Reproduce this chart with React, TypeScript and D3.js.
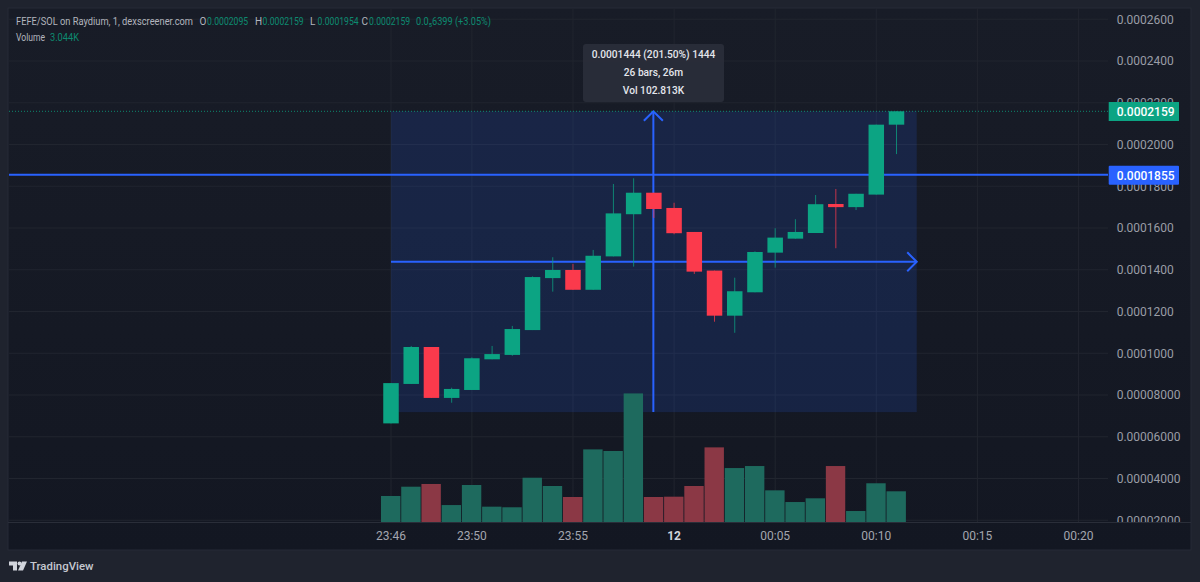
import React from "react";
import * as d3 from "d3";

const opens = [664, 853, 1030, 786, 824, 971, 992, 1111, 1360, 1399, 1304, 1464, 1666, 1769, 1696, 1581, 1396, 1180, 1292, 1482, 1549, 1576, 1715, 1700, 1760, 2095];
const closes = [857, 1030, 786, 829, 976, 996, 1116, 1365, 1399, 1304, 1467, 1670, 1769, 1691, 1575, 1391, 1180, 1297, 1485, 1554, 1581, 1714, 1700, 1764, 2095, 2159];
const highs = [857, 1035, 1030, 835, 980, 1035, 1131, 1368, 1460, 1428, 1495, 1811, 1838, 1769, 1721, 1581, 1396, 1362, 1488, 1599, 1642, 1758, 1787, 1764, 2095, 2159];
const lows = [664, 853, 786, 763, 824, 971, 988, 1111, 1295, 1304, 1304, 1464, 1415, 1648, 1570, 1380, 1151, 1098, 1292, 1410, 1549, 1576, 1503, 1686, 1760, 1954];
const volumes = [2.58, 3.5, 3.77, 1.68, 3.67, 1.52, 1.46, 4.39, 3.57, 2.48, 7.2, 7.04, 12.75, 2.48, 2.51, 3.57, 7.4, 5.35, 5.55, 3.14, 1.98, 2.35, 5.55, 1.09, 3.84, 3.044];

const priceTicks = [2600, 2400, 2200, 2000, 1800, 1600, 1400, 1200, 1000, 800, 600, 400, 200];
const priceTickLabels = ["0.0002600", "0.0002400", "0.0002200", "0.0002000", "0.0001800", "0.0001600", "0.0001400", "0.0001200", "0.0001000", "0.00008000", "0.00006000", "0.00004000", "0.00002000"];
const timeTickBars = [0, 4, 9, 14, 19, 24, 29, 34];
const timeTickLabels = ["23:46", "23:50", "23:55", "12", "00:05", "00:10", "00:15", "00:20"];

const lastPrice = 2159;
const hLinePrice = 1855;
const measureLow = 718;
const measureMid = 1438;
const measureBars = [0, 26];
const measureMidBar = 13;

const headerKeys = ["O", "H", "L", "C"];
const headerValues = ["0.0002095", "0.0002159", "0.0001954", "0.0002159"];
const headerKeyX = [199.5, 255, 310, 361.5];
const tooltipLines = ["0.0001444 (201.50%) 1444", "26 bars, 26m", "Vol 102.813K"];

const UP = "#0ca483";
const DOWN = "#fb3a4c";
const BLUE = "#2962ff";
const TXT = "#b2b5be";
const VAL = "#0d8a70";
const FONT = "Roboto, sans-serif";

export default function App() {
  const x = d3.scaleLinear().domain([0, 34]).range([391, 391 + 34 * 20.22]);
  const y = d3.scaleLinear().domain([2000, 1800]).range([144.5, 186.25]);
  const vy = d3.scaleLinear().domain([0, 3.044]).range([522, 491.3]);
  const bodyW = 15.5;
  const volW = 19;
  const rl = x(measureBars[0]), rr = x(measureBars[1]);
  const rt = y(lastPrice), rb = y(measureLow);
  const mx = x(measureMidBar) - 0.5, my = y(measureMid);
  const head = 9.5;
  return (
    <svg width={1200} height={582} style={{ position: "fixed", left: 0, top: 0, display: "block" }} fontFamily={FONT}>
      <defs>
        <linearGradient id="bg" x1="0" y1="0" x2="0" y2="1">
          <stop offset="0" stopColor="#181c27" />
          <stop offset="1" stopColor="#131722" />
        </linearGradient>
        <clipPath id="plot"><rect x={8} y={8} width={1183} height={514} /></clipPath>
      </defs>
      <rect width={1200} height={582} fill="#1f232e" />
      <rect x={8} y={8} width={1183} height={542} fill="url(#bg)" stroke="#272b36" />
      <line x1={8} x2={1191} y1={522.5} y2={522.5} stroke="#2a2e39" />
      <g stroke="#21252f" strokeWidth={1}>
        {priceTicks.map((t) => <line key={t} x1={9} x2={1108} y1={y(t)} y2={y(t)} />)}
        {timeTickBars.map((b) => <line key={b} x1={x(b)} x2={x(b)} y1={8} y2={522} />)}
      </g>
      <rect x={rl} y={rt} width={rr - rl} height={rb - rt} fill={BLUE} opacity={0.15} />
      <line x1={9} x2={1108} y1={y(hLinePrice)} y2={y(hLinePrice)} stroke={BLUE} strokeWidth={2} />
      <line x1={rl} x2={rr} y1={my} y2={my} stroke={BLUE} strokeWidth={2} />
      <line x1={mx} x2={mx} y1={rt} y2={rb} stroke={BLUE} strokeWidth={2} />
      <path d={`M${rr - head},${my - head} L${rr},${my} L${rr - head},${my + head}`} fill="none" stroke={BLUE} strokeWidth={2} />
      <path d={`M${mx - head},${rt + head} L${mx},${rt} L${mx + head},${rt + head}`} fill="none" stroke={BLUE} strokeWidth={2} />
      <g>
        {volumes.map((v, i) => (
          <rect key={i} x={x(i) - volW / 2 - 0.5} y={vy(v)} width={volW + 0.4} height={vy(0) - vy(v)}
            fill={closes[i] >= opens[i] ? "#1e6a5e" : "#8b3845"} />
        ))}
      </g>
      <g>
        {opens.map((o, i) => {
          const c = closes[i];
          const col = c >= o ? UP : DOWN;
          const top = y(Math.max(o, c)), bot = y(Math.min(o, c));
          return (
            <g key={i}>
              <line x1={x(i)} x2={x(i)} y1={y(highs[i])} y2={y(lows[i])} stroke={col} strokeWidth={1} opacity={0.75} />
              <rect x={x(i) - bodyW / 2} y={top} width={bodyW} height={Math.max(bot - top, 1.5)} fill={col} />
            </g>
          );
        })}
      </g>
      <line x1={9} x2={1108} y1={y(lastPrice)} y2={y(lastPrice)} stroke={UP} strokeDasharray="1 2" opacity={0.8} />
      <g clipPath="url(#plot)" fontSize={12} fill="#9a9da6">
        {priceTicks.map((t, i) => (
          <text key={t} x={1116.7} y={y(t) + 4.4}>{priceTickLabels[i]}</text>
        ))}
      </g>
      <g fontSize={12} textAnchor="middle">
        {timeTickBars.map((b, i) => (
          <text key={b} x={x(b)} y={540} fontWeight={timeTickLabels[i] === "12" ? 700 : 400} fill={timeTickLabels[i] === "12" ? "#d1d4dc" : "#a3a6af"}>{timeTickLabels[i]}</text>
        ))}
      </g>
      <rect x={1108.7} y={y(lastPrice) - 9.3} width={70.3} height={19} fill={UP} />
      <text x={1116.7} y={y(lastPrice) + 5} fontSize={12} fontWeight={500} fill="#fff">0.0002159</text>
      <rect x={1108.7} y={y(hLinePrice) - 9} width={70.3} height={19} rx={1} fill={BLUE} />
      <text x={1116.7} y={y(hLinePrice) + 5} fontSize={12} fontWeight={500} fill="#fff">0.0001855</text>

      <rect x={583} y={44} width={141} height={58} rx={3} fill="#2a2e39" opacity={0.92} />
      <g fontSize={10.2} fontWeight={500} fill="#e4e6ec" textAnchor="middle">
        {tooltipLines.map((t, i) => <text key={t} x={653.5} y={58 + i * 18}>{t}</text>)}
      </g>

      <g fontSize={10} fill={TXT}>
        <text x={16} y={25} textLength={177} lengthAdjust="spacingAndGlyphs">FEFE/SOL on Raydium, 1, dexscreener.com</text>
        {headerKeys.map((k, i) => (
          <g key={k}>
            <text x={headerKeyX[i]} y={25}>{k}</text>
            <text x={headerKeyX[i] + 7.6} y={25} fill={VAL} textLength={41} lengthAdjust="spacingAndGlyphs">{headerValues[i]}</text>
          </g>
        ))}
        <text x={416} y={25} fill={VAL} textLength={75} lengthAdjust="spacingAndGlyphs">0.0₅6399 (+3.05%)</text>
        <text x={16} y={41} textLength={29} lengthAdjust="spacingAndGlyphs">Volume</text>
        <text x={50} y={41} fill={VAL} textLength={29} lengthAdjust="spacingAndGlyphs">3.044K</text>
      </g>

      <g fill="#d1d4dc">
        <path d="M9,561.5 h8 v9 h-4 v-5 h-4 z" />
        <circle cx={19.5} cy={563.5} r={2} />
        <path d="M22,561.5 h5 l-4,9 h-5 z" />
      </g>
      <text x={30} y={570} fontSize={11.4} fontWeight={500} fill="#c5c8d0">TradingView</text>
    </svg>
  );
}
